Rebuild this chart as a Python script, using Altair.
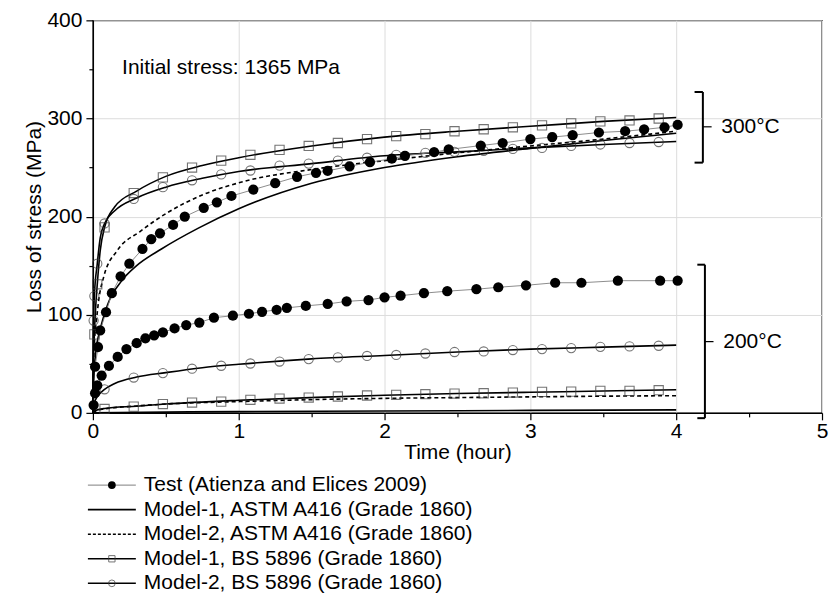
import altair as alt
import pandas as pd

FONT = "Liberation Sans"
FS = 21

# ---------------- data ----------------
# 300 degC curves
m1_astm_300_t = [0, 0.005, 0.02, 0.05, 0.1, 0.2, 0.3, 0.47, 0.72, 1.0, 1.5, 2.0, 2.5, 3.0, 3.5, 4.0]
m1_astm_300_v = [0, 30, 62, 85, 110, 135, 150, 167, 188, 208, 234, 250, 261, 269.5, 277.5, 285]
m2_astm_300_t = [0, 0.003, 0.01, 0.025, 0.04, 0.075, 0.17, 0.325, 0.5, 0.75, 1.04, 1.5, 2.0, 2.5, 3.0, 3.5, 4.0]
m2_astm_300_v = [0, 40, 70, 95, 115, 139, 166, 185, 203, 222, 236, 248, 257, 265, 272, 279, 287]
m1_bs_300_t = [0, 0.003, 0.01, 0.02, 0.03, 0.05, 0.08, 0.15, 0.3, 0.5, 0.75, 1.0, 1.5, 2.0, 2.5, 3.0, 3.5, 4.0]
m1_bs_300_v = [0, 45, 80, 110, 131, 165, 189, 210, 226, 241, 252, 260, 272, 281, 287, 292, 297, 301]
m2_bs_300_t = [0, 0.002, 0.005, 0.01, 0.03, 0.05, 0.08, 0.15, 0.3, 0.5, 0.75, 1.0, 1.5, 2.0, 2.5, 3.0, 3.5, 4.0]
m2_bs_300_v = [0, 60, 94, 119, 152, 178, 193, 206, 219, 230, 239, 246, 254, 262, 266, 270, 273.5, 276.5]

# 200 degC curves
m1_astm_200_t = [0, 0.5, 1.0, 2.0, 3.0, 4.0]
m1_astm_200_v = [0, 0.8, 1.3, 1.9, 2.5, 3.0]
m2_astm_200_t = [0, 0.02, 0.08, 0.3, 0.5, 1.0, 1.5, 2.0, 2.5, 3.0, 3.5, 4.0]
m2_astm_200_v = [0, 2, 4, 7, 9, 11.5, 13.5, 14.8, 15.6, 16.3, 17, 17.5]
m1_bs_200_t = [0, 0.01, 0.08, 0.3, 0.5, 1.0, 1.5, 2.0, 2.5, 3.0, 3.5, 4.0]
m1_bs_200_v = [0, 2, 4.5, 6.8, 9, 12.8, 15.6, 18, 19.7, 21, 22.3, 23.5]
m2_bs_200_t = [0, 0.005, 0.02, 0.05, 0.08, 0.15, 0.3, 0.5, 0.75, 1.0, 1.5, 2.0, 2.5, 3.0, 3.5, 4.0]
m2_bs_200_v = [0, 8, 14, 20, 24, 30, 36.5, 41, 46, 49.5, 55, 58.5, 62, 65, 67, 69]

# markers on the BS curves
bs_marker_t = [0.08, 0.28, 0.48, 0.68, 0.88, 1.08, 1.28, 1.48, 1.68, 1.88,
               2.08, 2.28, 2.48, 2.68, 2.88, 3.08, 3.28, 3.48, 3.68, 3.88]
m1_bs_300_mk = [189, 224, 240, 250, 257, 263, 268, 272, 275, 279,
                282, 284, 287, 289, 291, 293, 295, 297, 298, 300]
m2_bs_300_mk = [193, 218, 230, 237, 243, 247, 252, 254, 257, 260,
                263, 265, 266, 267, 269, 270, 272, 273.5, 275, 276]
m1_bs_200_mk = [4, 6.4, 9, 10.5, 11.5, 13.3, 14.6, 15.6, 16.7, 17.7,
                18.4, 19, 19.7, 20, 20.7, 21.4, 21.7, 22.4, 22.4, 23.1]
m2_bs_200_mk = [24, 36, 40.5, 45, 48, 50.3, 52.3, 54.8, 56.5, 58,
                59, 60.5, 62, 62.6, 64, 65, 66, 67.3, 67.7, 68.4]
m1_bs_300_early_t = [0.01, 0.03]
m1_bs_300_early_v = [80, 131]
m2_bs_300_early_t = [0.005, 0.01, 0.03]
m2_bs_300_early_v = [94, 119, 152]

# test data (Atienza and Elices 2009)
test_300_t = [0.015, 0.035, 0.05, 0.09, 0.13, 0.19, 0.25, 0.34, 0.40, 0.46, 0.55, 0.63, 0.76, 0.85,
              0.95, 1.10, 1.25, 1.40, 1.53, 1.61, 1.76, 1.90, 2.05, 2.14, 2.34, 2.44, 2.66, 2.81,
              3.00, 3.15, 3.29, 3.47, 3.65, 3.78, 3.92, 4.01]
test_300_v = [47, 67, 84, 102.6, 122, 139, 152, 167, 177, 183, 191.5, 200, 209, 214.6,
              221, 227.5, 234, 240.6, 244.6, 246.6, 251.3, 255.4, 259, 262, 265.6, 268.4, 272.4, 275,
              279, 281, 283, 285.7, 287, 288.8, 291, 293.5]
test_200_t = [0.005, 0.015, 0.03, 0.06, 0.11, 0.17, 0.23, 0.30, 0.36, 0.42, 0.48, 0.56, 0.64, 0.73,
              0.83, 0.96, 1.07, 1.16, 1.26, 1.33, 1.46, 1.61, 1.74, 1.89, 2.00, 2.11, 2.27, 2.43,
              2.63, 2.78, 2.97, 3.17, 3.35, 3.60, 3.89, 4.01]
test_200_v = [8, 20, 28, 38, 48, 57, 65, 71, 76, 79, 82, 86, 89.5, 92,
              97, 99, 101, 103, 105, 107, 109, 111, 113.6, 115, 117.7, 119.4, 122, 124,
              126, 128, 130, 132.6, 132.6, 134.7, 134.7, 134.7]

# annotations
note_text = "Initial stress: 1365 MPa"
note_pos = [0.2, 351]
bracket_labels = ["300°C", "200°C"]
bracket_x = [4.183, 4.197]
bracket_serif_x = [4.126, 4.145]
bracket_tick_x = [4.243, 4.256]
bracket_label_x = [4.309, 4.323]
bracket_top = [327, 151]
bracket_bottom = [255, -5.4]
bracket_mid = [291.5, 72.6]

legend_labels = ["Test (Atienza and Elices 2009)",
                 "Model-1, ASTM A416 (Grade 1860)",
                 "Model-2, ASTM A416 (Grade 1860)",
                 "Model-1, BS 5896 (Grade 1860)",
                 "Model-2, BS 5896 (Grade 1860)"]

x_tick_values = [0, 0.5, 1, 1.5, 2, 2.5, 3, 3.5, 4, 4.5, 5]
y_tick_values = [0, 50, 100, 150, 200, 250, 300, 350, 400]


# ---------------- tables ----------------
def frame(name, t, v):
    return pd.DataFrame({"series": name, "t": t, "v": v})


solid_df = pd.concat([
    frame("m1_astm_300", m1_astm_300_t, m1_astm_300_v),
    frame("m1_bs_300", m1_bs_300_t, m1_bs_300_v),
    frame("m2_bs_300", m2_bs_300_t, m2_bs_300_v),
    frame("m1_astm_200", m1_astm_200_t, m1_astm_200_v),
    frame("m1_bs_200", m1_bs_200_t, m1_bs_200_v),
    frame("m2_bs_200", m2_bs_200_t, m2_bs_200_v),
])
dashed_df = pd.concat([
    frame("m2_astm_300", m2_astm_300_t, m2_astm_300_v),
    frame("m2_astm_200", m2_astm_200_t, m2_astm_200_v),
])
square_df = pd.concat([
    frame("m1_bs_300", m1_bs_300_early_t + bs_marker_t, m1_bs_300_early_v + m1_bs_300_mk),
    frame("m1_bs_200", bs_marker_t, m1_bs_200_mk),
])
circle_df = pd.concat([
    frame("m2_bs_300", m2_bs_300_early_t + bs_marker_t, m2_bs_300_early_v + m2_bs_300_mk),
    frame("m2_bs_200", bs_marker_t, m2_bs_200_mk),
])
test_df = pd.concat([
    frame("test_300", test_300_t, test_300_v),
    frame("test_200", test_200_t, test_200_v),
])

vert_df = pd.DataFrame({"t": bracket_x, "t2": bracket_x, "v": bracket_bottom, "v2": bracket_top})
serif_df = pd.DataFrame({
    "t": bracket_serif_x + bracket_serif_x,
    "t2": bracket_x + bracket_x,
    "v": bracket_top + bracket_bottom,
})
tick_df = pd.DataFrame({"t": bracket_x, "t2": bracket_tick_x, "v": bracket_mid})
blabel_df = pd.DataFrame({"t": bracket_label_x, "v": bracket_mid, "label": bracket_labels})
note_df = pd.DataFrame({"t": [note_pos[0]], "v": [note_pos[1]], "label": [note_text]})

# ---------------- encodings ----------------
x_axis = alt.Axis(
    values=x_tick_values,
    labelExpr="datum.value % 1 === 0 ? format(datum.value, 'd') : ''",
    tickSize={"condition": {"test": "datum.value % 1 !== 0", "value": 4}, "value": 7},
    gridOpacity={"condition": {"test": "datum.value % 1 !== 0", "value": 0}, "value": 1},
    labelFlush=False, labelPadding=1, titlePadding=0, title="Time (hour)",
)
y_axis = alt.Axis(
    values=y_tick_values,
    labelExpr="datum.value % 100 === 0 ? format(datum.value, 'd') : ''",
    tickSize={"condition": {"test": "datum.value % 100 !== 0", "value": 4}, "value": 7},
    gridOpacity={"condition": {"test": "datum.value % 100 !== 0", "value": 0}, "value": 1},
    labelFlush=False, labelPadding=4, titlePadding=2, title="Loss of stress (MPa)",
)
X = alt.X("t:Q", scale=alt.Scale(domain=[0, 5], nice=False, zero=False, padding=0), axis=x_axis)
Y = alt.Y("v:Q", scale=alt.Scale(domain=[0, 400], nice=False, padding=0), axis=y_axis)
X2 = alt.X2("t2:Q")
Y2 = alt.Y2("v2:Q")

MK = "#3a3a3a"
solid = alt.Chart(solid_df).mark_line(interpolate="monotone", color="black", strokeWidth=1.6).encode(
    x=X, y=Y, detail="series:N")
dashed = alt.Chart(dashed_df).mark_line(interpolate="monotone", color="black", strokeWidth=1.6,
                                        strokeDash=[4, 3]).encode(x=X, y=Y, detail="series:N")
test_line = alt.Chart(test_df).mark_line(color="#808080", strokeWidth=0.9).encode(
    x=X, y=Y, detail="series:N")
squares = alt.Chart(square_df).mark_point(shape="square", filled=False, color=MK,
                                          size=85, strokeWidth=1.1).encode(x=X, y=Y)
circles = alt.Chart(circle_df).mark_point(shape="circle", filled=False, color=MK,
                                          size=85, strokeWidth=1.1).encode(x=X, y=Y)
test_pts = alt.Chart(test_df).mark_circle(color="black", size=105, opacity=1).encode(x=X, y=Y)

vert = alt.Chart(vert_df).mark_rule(color="black", strokeWidth=2).encode(x=X, y=Y, y2=Y2)
serif = alt.Chart(serif_df).mark_rule(color="black", strokeWidth=2).encode(x=X, x2=X2, y=Y)
ticks = alt.Chart(tick_df).mark_rule(color="black", strokeWidth=1.2).encode(x=X, x2=X2, y=Y)
blabels = alt.Chart(blabel_df).mark_text(align="left", baseline="middle", font=FONT,
                                         fontSize=FS, color="black").encode(x=X, y=Y, text="label:N")
note = alt.Chart(note_df).mark_text(align="left", baseline="middle", font=FONT,
                                    fontSize=FS, color="black").encode(x=X, y=Y, text="label:N")

main = alt.layer(solid, dashed, test_line, squares, circles, test_pts,
                 vert, serif, ticks, blabels, note).properties(
    width=730, height=393,
    view=alt.ViewBackground(stroke="black", strokeWidth=1.3),
)

# ---------------- legend panel ----------------
legend_df = pd.DataFrame({"label": legend_labels})
LY = alt.Y("label:N", scale=alt.Scale(type="point", domain=legend_labels, padding=0.4), axis=None)
base = alt.Chart(legend_df)
lg_test_line = base.transform_filter(alt.datum.label == legend_labels[0]).mark_rule(
    color="#808080", strokeWidth=1).encode(x=alt.value(-5), x2=alt.value(43), y=LY)
lg_solid = base.transform_filter(
    alt.FieldOneOfPredicate(field="label", oneOf=[legend_labels[1], legend_labels[3], legend_labels[4]])
).mark_rule(color="black", strokeWidth=1.6).encode(x=alt.value(-5), x2=alt.value(43), y=LY)
lg_dash = base.transform_filter(alt.datum.label == legend_labels[2]).mark_rule(
    color="black", strokeWidth=1.4, strokeDash=[3, 2]).encode(x=alt.value(-5), x2=alt.value(43), y=LY)
lg_dot = base.transform_filter(alt.datum.label == legend_labels[0]).mark_circle(
    color="black", size=60, opacity=1).encode(x=alt.value(19), y=LY)
lg_sq = base.transform_filter(alt.datum.label == legend_labels[3]).mark_point(
    shape="square", filled=False, color=MK, size=40, strokeWidth=1).encode(x=alt.value(19), y=LY)
lg_ci = base.transform_filter(alt.datum.label == legend_labels[4]).mark_point(
    shape="circle", filled=False, color=MK, size=45, strokeWidth=1).encode(x=alt.value(19), y=LY)
lg_text = base.mark_text(align="left", baseline="middle", font=FONT, fontSize=FS, color="black").encode(
    x=alt.value(51), y=LY, text="label:N")

legend = alt.layer(lg_test_line, lg_solid, lg_dash, lg_dot, lg_sq, lg_ci, lg_text).properties(
    width=730, height=118,
    view=alt.ViewBackground(stroke="transparent"),
)

chart = alt.vconcat(main, legend, spacing=9.5).properties(
    padding={"left": 15, "top": 0, "right": 0, "bottom": 0},
).configure_axis(
    domainColor="black", domainWidth=1.3, tickColor="black", tickWidth=1.2,
    labelFont=FONT, titleFont=FONT, labelFontSize=FS, titleFontSize=FS,
    labelColor="black", titleColor="black", titleFontWeight="normal",
    gridColor="#dcdcdc", gridWidth=1,
)

chart.save("out.html", embed_options={"renderer": "svg", "actions": False})
